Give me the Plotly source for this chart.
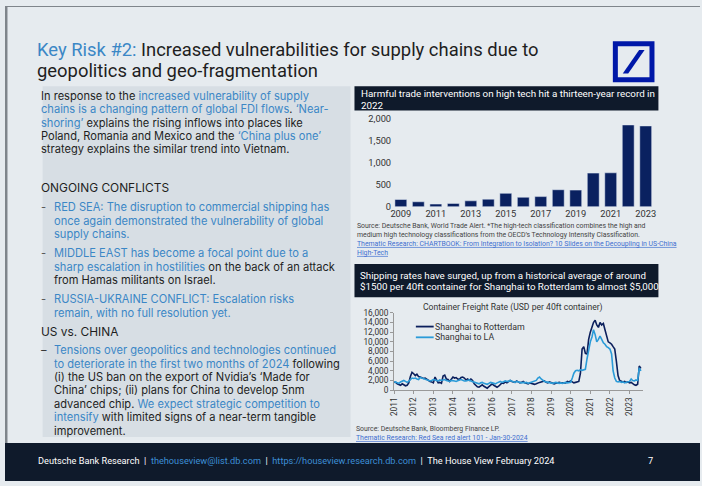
import plotly.graph_objects as go
import pandas as pd

W, H = 702, 486
def X(p): return p / W
def Y(p): return 1 - p / H

# ---------------- data ----------------
bar_years = list(range(2009, 2024))
bar_values = [167, 115, 63, 78, 137, 174, 307, 218, 233, 389, 381, 767, 774, 1862, 1840]
bar_ticks = [2009, 2011, 2013, 2015, 2017, 2019, 2021, 2023]

rotterdam = [
    1700, 1600, 1300, 1100, 1000, 1300, 1100, 900, 1000, 1500, 2800, 3700,   # 2011
    3400, 3000, 3300, 2800, 2700, 2600, 2400, 2500, 2200, 2000, 1800, 1700,  # 2012
    1500, 2700, 2100, 1500, 1600, 1400, 2900, 3100, 2300, 2200, 1800, 2300,  # 2013
    2700, 2500, 2600, 2300, 2200, 2600, 2700, 2500, 2100, 2300, 2000, 2300,  # 2014
    2000, 1300, 900, 700, 600, 900, 1100, 800, 600, 400, 700, 1000,          # 2015
    1300, 1000, 800, 600, 800, 1200, 1500, 1400, 1700, 1500, 1800, 2000,     # 2016
    1800, 1700, 1600, 1900, 1700, 1500, 1600, 1800, 1500, 1400, 1300, 1500,  # 2017
    1400, 1300, 1200, 1300, 1500, 1600, 1700, 1800, 1900, 1600, 1500, 1700,  # 2018
    1600, 1500, 1300, 1400, 1500, 1600, 1500, 1500, 1400, 1500, 1800, 1700,  # 2019
    1900, 1700, 1500, 1600, 1700, 1800, 3500, 8500, 9000, 7600, 7500, 10500, # 2020
    12000, 13000, 14000, 14500, 13500, 13000, 14000, 13500, 13800, 12500, 11000, 10000,  # 2021
    9800, 9500, 9000, 8500, 6000, 3000, 2000, 1800, 1700, 1800, 1600, 1700,  # 2022
    1500, 1600, 1300, 1100, 1000, 1200, 5000, 4500,                          # 2023
]
shanghai_la = [
    1600, 1700, 1500, 1400, 1700, 1900, 2000, 1800, 1600, 1800, 2200, 2500,  # 2011
    2400, 2500, 2300, 2200, 2600, 2500, 2400, 2300, 2100, 2000, 1900, 2000,  # 2012
    2200, 2100, 2000, 1900, 2100, 2000, 2100, 2200, 2000, 1900, 1800, 2000,  # 2013
    2000, 1900, 1800, 2000, 2100, 2200, 2000, 1900, 1900, 2000, 2100, 1900,  # 2014
    1800, 1700, 1500, 1400, 1300, 1500, 1600, 1400, 1300, 1200, 1400, 1600,  # 2015
    1500, 1400, 1300, 1500, 1700, 1800, 1600, 1700, 1900, 1800, 1800, 2000,  # 2016
    1900, 1700, 1600, 1800, 1700, 1600, 1500, 1600, 1500, 1600, 1400, 1500,  # 2017
    1600, 1700, 1800, 2000, 2500, 2700, 2300, 2000, 1800, 1700, 1600, 1500,  # 2018
    1500, 1400, 1500, 1600, 1500, 1400, 1500, 1400, 1500, 1600, 1500, 1500,  # 2019
    1600, 2500, 3500, 4000, 4100, 4000, 4200, 4100, 4200, 4300, 6500, 8500,  # 2020
    10000, 11000, 12500, 11500, 10000, 10500, 11200, 10500, 9800, 9500, 9000, 8800,  # 2021
    8500, 7500, 4000, 2500, 1800, 1700, 1800, 1600, 1700, 1500, 1600, 1700,  # 2022
    1800, 2300, 2000, 1900, 2100, 2000, 4600, 4000,                          # 2023
]
freight_dates = pd.date_range("2011-01-01", periods=len(rotterdam), freq="MS")
freight_years = list(range(2011, 2024))
series_names = ["Shanghai to Rotterdam", "Shanghai to LA"]
series_colors = ["#0b1f5c", "#2b9bd8"]

# ---------------- styles ----------------
FONT = "Roboto"
BODY = "Inter"
BLUE = "#3b87c6"
DARK = "#1e1e1e"
NAVY_BOX = "#0f1a2b"
BG = "#e6ebef"
BOX = "#d7dee4"

def b(s):
    return f'<span style="color:{BLUE}">{s}</span>'

fig = go.Figure()
fig.add_trace(go.Bar(x=bar_years, y=bar_values, marker_color="#0a2160", width=0.68,
                     xaxis="x", yaxis="y", showlegend=False))
for vals, name, col in zip([rotterdam, shanghai_la], series_names, series_colors):
    fig.add_trace(go.Scatter(x=freight_dates, y=vals, mode="lines", name=name,
                             line=dict(color=col, width=1.6), xaxis="x2", yaxis="y2",
                             showlegend=False))

# ---------------- shapes ----------------
shapes = []
def rect(x0, y0, x1, y1, fill, layer="below"):
    shapes.append(dict(type="rect", xref="paper", yref="paper", x0=X(x0), x1=X(x1), y0=Y(y1), y1=Y(y0),
                       fillcolor=fill, line=dict(width=0), layer=layer))

rect(0, 0, 2.5, 486, "#7f858b")
rect(0, 0, 702, 1, "#7f858b")
rect(38, 82, 349, 441, BOX)
rect(353, 82, 660, 107, NAVY_BOX)
rect(353, 264, 660, 298, NAVY_BOX)
rect(0, 447, 702, 486, NAVY_BOX)
# Deutsche Bank logo
shapes.append(dict(type="rect", xref="paper", yref="paper", x0=X(616.5), x1=X(653.5), y0=Y(75.5), y1=Y(38.5),
                   fillcolor="rgba(0,0,0,0)", line=dict(width=5, color="#0018a8"), layer="above"))
pts = [(624, 69), (629.5, 69), (646, 45), (640.5, 45)]
path = "M " + " L ".join(f"{X(a):.5f},{Y(c):.5f}" for a, c in pts) + " Z"
shapes.append(dict(type="path", xref="paper", yref="paper", path=path, fillcolor="#0018a8",
                   line=dict(width=0), layer="above"))
# manual legend samples
for i, col in enumerate(series_colors):
    yy = 328 + 11 * i
    shapes.append(dict(type="line", xref="paper", yref="paper", x0=X(415), x1=X(433), y0=Y(yy), y1=Y(yy),
                       line=dict(color=col, width=1.8), layer="above"))

# ---------------- text ----------------
ann = []
def txt(x, y, s, size=11.1, color=DARK, anchor="left", family=BODY):
    ann.append(dict(x=X(x), y=Y(y), xref="paper", yref="paper", text=s, showarrow=False,
                    xanchor=anchor, yanchor="middle", align="left", borderpad=0, borderwidth=0,
                    font=dict(size=size, color=color, family=family)))

# title
txt(32, 44, b("Key Risk #2:") + " Increased vulnerabilities for supply chains due to", 18.4, family=FONT)
txt(32, 65.6, "geopolitics and geo-fragmentation", 18.4, family=FONT)

# left column
L = 36
I = 49
para1 = [
    "In response to the " + b("increased vulnerability of supply"),
    b("chains is a changing pattern of global FDI flows") + ". " + b("‘Near-"),
    b("shoring’") + " explains the rising inflows into places like",
    "Poland, Romania and Mexico and the " + b("‘China plus one’"),
    "strategy explains the similar trend into Vietnam.",
]
for k, s in enumerate(para1):
    txt(L, 92 + 13.7 * k, s)
txt(L, 186, "ONGOING CONFLICTS", 11.9)

bullets = [
    (206, "-", [b("RED SEA: The disruption to commercial shipping has"),
                b("once again demonstrated the vulnerability of global"),
                b("supply chains.")]),
    (253, "-", [b("MIDDLE EAST has become a focal point due to a"),
                b("sharp escalation in hostilities") + " on the back of an attack",
                "from Hamas militants on Israel."]),
    (300, "-", [b("RUSSIA-UKRAINE CONFLICT: Escalation risks"),
                b("remain, with no full resolution yet.")]),
]
for y0, dash, lines in bullets:
    txt(L, y0, dash, 11.1, "#555")
    for k, s in enumerate(lines):
        txt(I, y0 + 13.7 * k, s)

txt(L, 333, "US vs. CHINA", 11.9)
us_lines = [
    b("Tensions over geopolitics and technologies continued"),
    b("to deteriorate in the first two months of 2024") + " following",
    "(i) the US ban on the export of Nvidia’s ‘Made for",
    "China’ chips; (ii) plans for China to develop 5nm",
    "advanced chip. " + b("We expect strategic competition to"),
    b("intensify") + " with limited signs of a near-term tangible",
    "improvement.",
]
txt(L, 352, "–", 11.1, "#333")
for k, s in enumerate(us_lines):
    txt(I, 352 + 13.8 * k, s)

# chart headers
txt(360, 89.5, "Harmful trade interventions on high tech hit a thirteen-year record in", 9.8, "white", family=FONT)
txt(360, 101.5, "2022", 9.8, "white", family=FONT)
txt(359, 275.5, "Shipping rates have surged, up from a historical average of around", 9.75, "white", family=FONT)
txt(359, 287.5, "$1500 per 40ft container for Shanghai to Rotterdam to almost $5,000", 9.75, "white", family=FONT)

# sources
SRC = "#444"
LINK = "#3f6fd0"
def link(s):
    return f'<span style="color:{LINK};text-decoration:underline">{s}</span>'
src1 = ("Source: Deutsche Bank, World Trade Alert. *The high-tech classification combines the high and<br>"
        "medium high technology classifications from the OECD’s Technology Intensity Classification.<br>"
        + link("Thematic Research: CHARTBOOK: From Integration to Isolation? 10 Slides on the Decoupling in US-China")
        + "<br>" + link("High-Tech"))
txt(356, 238.5, src1, 6.9, SRC, family=FONT)
src2 = ("Source: Deutsche Bank, Bloomberg Finance LP.<br>"
        + link("Thematic Research: Red Sea red alert 101 - Jan-30-2024"))
txt(355, 437, src2, 6.9, SRC, family=FONT)

# line chart title and legend text
txt(513, 308, "Container Freight Rate (USD per 40ft container)", 8.6, "#333", anchor="center", family=FONT)
for i, name in enumerate(series_names):
    txt(434, 328 + 11 * i, name, 8.8, "#333", family=FONT)

# footer
FB = "#3d8fd6"
footer = ("Deutsche Bank Research  |  " + f'<span style="color:{FB}">thehouseview@list.db.com</span>' +
          "  |  " + f'<span style="color:{FB}">https://houseview.research.db.com</span>' +
          "  |  The House View February 2024")
txt(33, 465, footer, 9.2, "white", family=FONT)
txt(652, 465, "7", 9.2, "white", anchor="center", family=FONT)

TICKF = dict(size=9.3, color="#333", family=FONT)
fig.update_layout(
    width=W, height=H,
    margin=dict(l=0, r=0, t=0, b=0),
    paper_bgcolor=BG, plot_bgcolor="rgba(0,0,0,0)",
    font=dict(family=FONT, color=DARK),
    shapes=shapes, annotations=ann,
    showlegend=False,
    xaxis=dict(domain=[X(391), X(656)], range=[2008.5, 2023.5], tickvals=bar_ticks,
               showline=False, showgrid=False, zeroline=False, ticks="", tickfont=TICKF),
    yaxis=dict(domain=[Y(205.5), Y(115.5)], range=[0, 2000], tickvals=[0, 500, 1000, 1500, 2000],
               tickformat=",", showline=False, showgrid=False, zeroline=False, ticks="", tickfont=TICKF),
    xaxis2=dict(domain=[X(393), X(644)], type="date", range=["2011-01-01", "2023-09-01"],
                tickvals=[f"{y}-01-01" for y in freight_years], ticktext=[str(y) for y in freight_years],
                tickangle=-90, showline=True, linecolor="#999", ticks="outside", ticklen=3,
                tickcolor="#999", showgrid=False, zeroline=False,
                tickfont=dict(size=8.3, color="#333", family=FONT), anchor="y2"),
    yaxis2=dict(domain=[Y(393), Y(314)], range=[0, 16000], dtick=2000, tickformat=",",
                showline=True, linecolor="#999", ticks="outside", ticklen=3, tickcolor="#999",
                showgrid=False, zeroline=False,
                tickfont=dict(size=8.3, color="#333", family=FONT), anchor="x2"),
)

fig.write_html("out.html", config={"displayModeBar": False},
               post_script="document.body.style.margin='0';document.body.style.padding='0';"
                           "document.body.style.overflow='hidden';")
